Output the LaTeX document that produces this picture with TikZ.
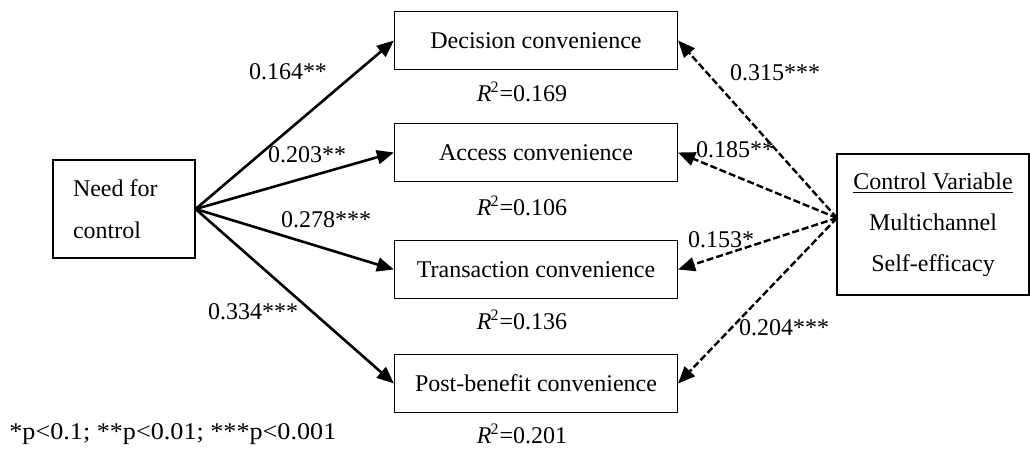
\documentclass[tikz,border=0pt]{standalone}
\usepackage{fontspec}
\setmainfont{Liberation Serif}
\usetikzlibrary{arrows.meta}
\begin{document}
\begin{tikzpicture}[x=0.5pt,y=-0.5pt,
  every node/.style={font=\fontsize{12}{14}\selectfont, inner sep=0pt},
  box/.style={draw, line width=0.6pt, minimum width=141.5pt, minimum height=29pt},
  solidarr/.style={line width=1.3pt, -{Triangle[length=8.5pt,width=7pt]}},
  dasharr/.style={line width=1.2pt, dash pattern=on 3.5pt off 1.5pt, -{Triangle[length=8.5pt,width=7pt]}},
  lbl/.style={},
  rsq/.style={}
]
\useasboundingbox (0,0) rectangle (1030,450);
\node[draw, line width=0.6pt, minimum width=71pt, minimum height=49pt, text width=51pt,
      inner xsep=10pt, align=flush left,
      font=\fontsize{12}{21}\selectfont] (need) at (124,209) {Need for\\control};
\node[box] (dec) at (536,40.5) {Decision convenience};
\node[box] (acc) at (536,152.5) {Access convenience};
\node[box] (tra) at (536,269.5) {Transaction convenience};
\node[box] (pos) at (536,383.5) {Post-benefit convenience};
\node[draw, line width=0.6pt, minimum width=96pt, minimum height=70.5pt, align=center,
      font=\fontsize{12}{20.5}\selectfont] (ctrl) at (933,224.5) {\underline{Control Variable}\\Multichannel\\Self-efficacy};
\coordinate (cvp) at (837,218);

\draw[solidarr] (need.east) -- (dec.west);
\draw[solidarr] (need.east) -- (acc.west);
\draw[solidarr] (need.east) -- (tra.west);
\draw[solidarr] (need.east) -- (pos.west);

\draw[dasharr] (cvp) -- (dec.east);
\draw[dasharr] (cvp) -- (acc.east);
\draw[dasharr] (cvp) -- (tra.east);
\draw[dasharr] (cvp) -- (pos.east);

\node[lbl] (l1) at (288,72) {0.164**};
\node[lbl] (l2) at (307,155) {0.203**};
\node[lbl] (l3) at (326,220) {0.278***};
\node[lbl] (l4) at (253,312) {0.334***};
\node[lbl] (r1) at (775,73) {0.315***};
\node[lbl] (r2) at (735,150) {0.185**};
\node[lbl] (r3) at (721,240) {0.153*};
\node[lbl] (r4) at (784,328) {0.204***};

\node[rsq] (q1) at (522,92) {\textit{R}\kern-0.5pt\textsuperscript{2}=0.169};
\node[rsq] (q2) at (522,206) {\textit{R}\kern-0.5pt\textsuperscript{2}=0.106};
\node[rsq] (q3) at (522,320) {\textit{R}\kern-0.5pt\textsuperscript{2}=0.136};
\node[rsq] (q4) at (522,434) {\textit{R}\kern-0.5pt\textsuperscript{2}=0.201};
\node[anchor=west] (fn) at (9,434) {\scalebox{1.09}[1]{*p<0.1; **p<0.01; ***p<0.001}};
\end{tikzpicture}
\end{document}
